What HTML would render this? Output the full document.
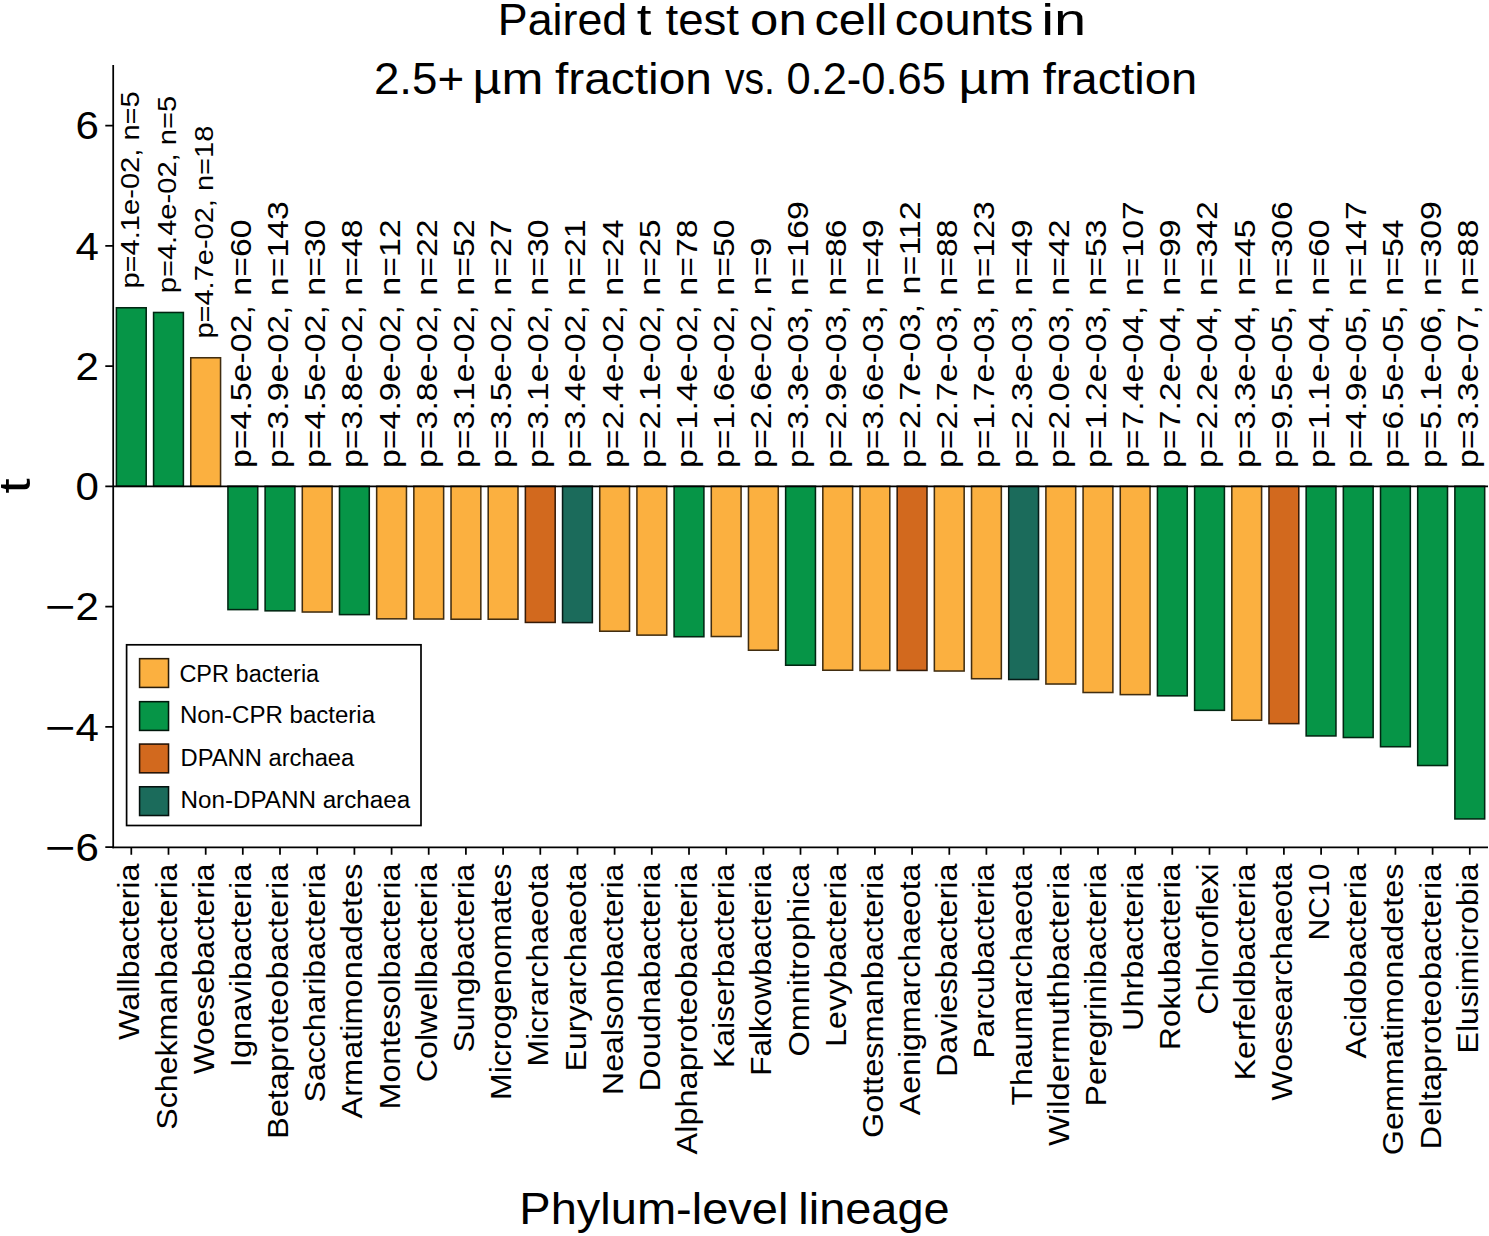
<!DOCTYPE html>
<html lang="en"><head><meta charset="utf-8"><title>Paired t test on cell counts</title>
<style>html,body{margin:0;padding:0;background:#fff}svg{display:block}text{font-family:"Liberation Sans",sans-serif;fill:#000}</style></head><body>
<svg width="1489" height="1236" viewBox="0 0 1489 1236">
<rect width="1489" height="1236" fill="#fff"/>
<text y="34.9" font-size="44"><tspan x="497.8" textLength="129.4" lengthAdjust="spacingAndGlyphs">Paired</tspan> <tspan x="636.7" textLength="14.7" lengthAdjust="spacingAndGlyphs">t</tspan> <tspan x="665.5" textLength="73.5" lengthAdjust="spacingAndGlyphs">test</tspan> <tspan x="750.1" textLength="56.6" lengthAdjust="spacingAndGlyphs">on</tspan> <tspan x="814.5" textLength="72.9" lengthAdjust="spacingAndGlyphs">cell</tspan> <tspan x="894.8" textLength="138.5" lengthAdjust="spacingAndGlyphs">counts</tspan> <tspan x="1041.2" textLength="45.1" lengthAdjust="spacingAndGlyphs">in</tspan></text>
<text y="94.0" font-size="44"><tspan x="373.9" textLength="90.3" lengthAdjust="spacingAndGlyphs">2.5+</tspan> <tspan x="472.5" textLength="70.8" lengthAdjust="spacingAndGlyphs">µm</tspan> <tspan x="554.9" textLength="157.1" lengthAdjust="spacingAndGlyphs">fraction</tspan> <tspan x="725.0" textLength="49.9" lengthAdjust="spacingAndGlyphs">vs.</tspan> <tspan x="786.4" textLength="159.5" lengthAdjust="spacingAndGlyphs">0.2-0.65</tspan> <tspan x="958.5" textLength="72.7" lengthAdjust="spacingAndGlyphs">µm</tspan> <tspan x="1042.7" textLength="154.5" lengthAdjust="spacingAndGlyphs">fraction</tspan></text>
<text y="1223.5" font-size="44"><tspan x="519.3" textLength="269.1" lengthAdjust="spacingAndGlyphs">Phylum-level</tspan> <tspan x="798.3" textLength="151.3" lengthAdjust="spacingAndGlyphs">lineage</tspan></text>
<text transform="translate(30.3 493.6) rotate(-90)" font-size="45" textLength="15.2" lengthAdjust="spacingAndGlyphs">t</text>
<g stroke-width="1.55">
<rect x="116.40" y="307.77" width="29.80" height="178.53" fill="#069547" stroke="#012612"/>
<rect x="153.58" y="312.47" width="29.80" height="173.83" fill="#069547" stroke="#012612"/>
<rect x="190.76" y="357.77" width="29.80" height="128.53" fill="#fbb040" stroke="#412d10"/>
<rect x="227.94" y="486.30" width="29.80" height="123.32" fill="#069547" stroke="#012612"/>
<rect x="265.12" y="486.30" width="29.80" height="124.53" fill="#069547" stroke="#012612"/>
<rect x="302.30" y="486.30" width="29.80" height="125.72" fill="#fbb040" stroke="#412d10"/>
<rect x="339.48" y="486.30" width="29.80" height="128.32" fill="#069547" stroke="#012612"/>
<rect x="376.66" y="486.30" width="29.80" height="132.53" fill="#fbb040" stroke="#412d10"/>
<rect x="413.84" y="486.30" width="29.80" height="132.72" fill="#fbb040" stroke="#412d10"/>
<rect x="451.02" y="486.30" width="29.80" height="132.93" fill="#fbb040" stroke="#412d10"/>
<rect x="488.20" y="486.30" width="29.80" height="132.93" fill="#fbb040" stroke="#412d10"/>
<rect x="525.38" y="486.30" width="29.80" height="136.13" fill="#d2691e" stroke="#361b07"/>
<rect x="562.56" y="486.30" width="29.80" height="136.32" fill="#1b6b5b" stroke="#071b17"/>
<rect x="599.74" y="486.30" width="29.80" height="144.93" fill="#fbb040" stroke="#412d10"/>
<rect x="636.92" y="486.30" width="29.80" height="148.82" fill="#fbb040" stroke="#412d10"/>
<rect x="674.10" y="486.30" width="29.80" height="150.43" fill="#069547" stroke="#012612"/>
<rect x="711.28" y="486.30" width="29.80" height="150.22" fill="#fbb040" stroke="#412d10"/>
<rect x="748.46" y="486.30" width="29.80" height="163.93" fill="#fbb040" stroke="#412d10"/>
<rect x="785.64" y="486.30" width="29.80" height="178.93" fill="#069547" stroke="#012612"/>
<rect x="822.82" y="486.30" width="29.80" height="183.93" fill="#fbb040" stroke="#412d10"/>
<rect x="860.00" y="486.30" width="29.80" height="184.13" fill="#fbb040" stroke="#412d10"/>
<rect x="897.18" y="486.30" width="29.80" height="184.13" fill="#d2691e" stroke="#361b07"/>
<rect x="934.36" y="486.30" width="29.80" height="184.72" fill="#fbb040" stroke="#412d10"/>
<rect x="971.54" y="486.30" width="29.80" height="192.43" fill="#fbb040" stroke="#412d10"/>
<rect x="1008.72" y="486.30" width="29.80" height="193.22" fill="#1b6b5b" stroke="#071b17"/>
<rect x="1045.90" y="486.30" width="29.80" height="197.72" fill="#fbb040" stroke="#412d10"/>
<rect x="1083.08" y="486.30" width="29.80" height="206.22" fill="#fbb040" stroke="#412d10"/>
<rect x="1120.26" y="486.30" width="29.80" height="208.32" fill="#fbb040" stroke="#412d10"/>
<rect x="1157.44" y="486.30" width="29.80" height="209.53" fill="#069547" stroke="#012612"/>
<rect x="1194.62" y="486.30" width="29.80" height="224.03" fill="#069547" stroke="#012612"/>
<rect x="1231.80" y="486.30" width="29.80" height="233.93" fill="#fbb040" stroke="#412d10"/>
<rect x="1268.98" y="486.30" width="29.80" height="237.32" fill="#d2691e" stroke="#361b07"/>
<rect x="1306.16" y="486.30" width="29.80" height="249.63" fill="#069547" stroke="#012612"/>
<rect x="1343.34" y="486.30" width="29.80" height="251.22" fill="#069547" stroke="#012612"/>
<rect x="1380.52" y="486.30" width="29.80" height="260.43" fill="#069547" stroke="#012612"/>
<rect x="1417.70" y="486.30" width="29.80" height="279.22" fill="#069547" stroke="#012612"/>
<rect x="1454.88" y="486.30" width="29.80" height="332.63" fill="#069547" stroke="#012612"/>
</g>
<g stroke="#000" stroke-width="1.75" fill="none">
<path d="M113.2 65.0V848.175"/>
<path d="M112.325 847.3H1488"/>
<path d="M113.2 486.3H1488"/>
<path d="M105.3 125.5H113.2M105.3 245.8H113.2M105.3 366.0H113.2M105.3 486.3H113.2M105.3 606.6H113.2M105.3 726.8H113.2M105.3 847.1H113.2M131.3 847.3V854.7M168.5 847.3V854.7M205.7 847.3V854.7M242.8 847.3V854.7M280.0 847.3V854.7M317.2 847.3V854.7M354.4 847.3V854.7M391.6 847.3V854.7M428.7 847.3V854.7M465.9 847.3V854.7M503.1 847.3V854.7M540.3 847.3V854.7M577.5 847.3V854.7M614.6 847.3V854.7M651.8 847.3V854.7M689.0 847.3V854.7M726.2 847.3V854.7M763.4 847.3V854.7M800.5 847.3V854.7M837.7 847.3V854.7M874.9 847.3V854.7M912.1 847.3V854.7M949.3 847.3V854.7M986.4 847.3V854.7M1023.6 847.3V854.7M1060.8 847.3V854.7M1098.0 847.3V854.7M1135.2 847.3V854.7M1172.3 847.3V854.7M1209.5 847.3V854.7M1246.7 847.3V854.7M1283.9 847.3V854.7M1321.1 847.3V854.7M1358.2 847.3V854.7M1395.4 847.3V854.7M1432.6 847.3V854.7M1469.8 847.3V854.7"/>
</g>
<g font-size="38.6" text-anchor="end">
<text x="98.9" y="139.3" textLength="23.4" lengthAdjust="spacingAndGlyphs">6</text>
<text x="98.9" y="259.6" textLength="23.4" lengthAdjust="spacingAndGlyphs">4</text>
<text x="98.9" y="379.8" textLength="23.4" lengthAdjust="spacingAndGlyphs">2</text>
<text x="98.9" y="500.1" textLength="23.4" lengthAdjust="spacingAndGlyphs">0</text>
<text x="98.9" y="620.4"><tspan textLength="30.8" lengthAdjust="spacingAndGlyphs">−</tspan><tspan textLength="23.4" lengthAdjust="spacingAndGlyphs">2</tspan></text>
<text x="98.9" y="740.6"><tspan textLength="30.8" lengthAdjust="spacingAndGlyphs">−</tspan><tspan textLength="23.4" lengthAdjust="spacingAndGlyphs">4</tspan></text>
<text x="98.9" y="860.9"><tspan textLength="30.8" lengthAdjust="spacingAndGlyphs">−</tspan><tspan textLength="23.4" lengthAdjust="spacingAndGlyphs">6</tspan></text>
</g>
<text transform="translate(138.9 288.6) rotate(-90)" font-size="25.0" textLength="197.4" lengthAdjust="spacingAndGlyphs">p=4.1e-02, n=5</text>
<text transform="translate(176.1 293.3) rotate(-90)" font-size="25.0" textLength="197.4" lengthAdjust="spacingAndGlyphs">p=4.4e-02, n=5</text>
<text transform="translate(213.3 338.6) rotate(-90)" font-size="25.0" textLength="212.9" lengthAdjust="spacingAndGlyphs">p=4.7e-02, n=18</text>
<text transform="translate(250.7 468.0) rotate(-90)" font-size="29.2" textLength="248.6" lengthAdjust="spacingAndGlyphs">p=4.5e-02, n=60</text>
<text transform="translate(287.9 468.0) rotate(-90)" font-size="29.2" textLength="266.8" lengthAdjust="spacingAndGlyphs">p=3.9e-02, n=143</text>
<text transform="translate(325.1 468.0) rotate(-90)" font-size="29.2" textLength="248.6" lengthAdjust="spacingAndGlyphs">p=4.5e-02, n=30</text>
<text transform="translate(362.3 468.0) rotate(-90)" font-size="29.2" textLength="248.6" lengthAdjust="spacingAndGlyphs">p=3.8e-02, n=48</text>
<text transform="translate(399.5 468.0) rotate(-90)" font-size="29.2" textLength="248.6" lengthAdjust="spacingAndGlyphs">p=4.9e-02, n=12</text>
<text transform="translate(436.6 468.0) rotate(-90)" font-size="29.2" textLength="248.6" lengthAdjust="spacingAndGlyphs">p=3.8e-02, n=22</text>
<text transform="translate(473.8 468.0) rotate(-90)" font-size="29.2" textLength="248.6" lengthAdjust="spacingAndGlyphs">p=3.1e-02, n=52</text>
<text transform="translate(511.0 468.0) rotate(-90)" font-size="29.2" textLength="248.6" lengthAdjust="spacingAndGlyphs">p=3.5e-02, n=27</text>
<text transform="translate(548.2 468.0) rotate(-90)" font-size="29.2" textLength="248.6" lengthAdjust="spacingAndGlyphs">p=3.1e-02, n=30</text>
<text transform="translate(585.4 468.0) rotate(-90)" font-size="29.2" textLength="248.6" lengthAdjust="spacingAndGlyphs">p=3.4e-02, n=21</text>
<text transform="translate(622.5 468.0) rotate(-90)" font-size="29.2" textLength="248.6" lengthAdjust="spacingAndGlyphs">p=2.4e-02, n=24</text>
<text transform="translate(659.7 468.0) rotate(-90)" font-size="29.2" textLength="248.6" lengthAdjust="spacingAndGlyphs">p=2.1e-02, n=25</text>
<text transform="translate(696.9 468.0) rotate(-90)" font-size="29.2" textLength="248.6" lengthAdjust="spacingAndGlyphs">p=1.4e-02, n=78</text>
<text transform="translate(734.1 468.0) rotate(-90)" font-size="29.2" textLength="248.6" lengthAdjust="spacingAndGlyphs">p=1.6e-02, n=50</text>
<text transform="translate(771.3 468.0) rotate(-90)" font-size="29.2" textLength="230.4" lengthAdjust="spacingAndGlyphs">p=2.6e-02, n=9</text>
<text transform="translate(808.4 468.0) rotate(-90)" font-size="29.2" textLength="266.8" lengthAdjust="spacingAndGlyphs">p=3.3e-03, n=169</text>
<text transform="translate(845.6 468.0) rotate(-90)" font-size="29.2" textLength="248.6" lengthAdjust="spacingAndGlyphs">p=2.9e-03, n=86</text>
<text transform="translate(882.8 468.0) rotate(-90)" font-size="29.2" textLength="248.6" lengthAdjust="spacingAndGlyphs">p=3.6e-03, n=49</text>
<text transform="translate(920.0 468.0) rotate(-90)" font-size="29.2" textLength="266.8" lengthAdjust="spacingAndGlyphs">p=2.7e-03, n=112</text>
<text transform="translate(957.2 468.0) rotate(-90)" font-size="29.2" textLength="248.6" lengthAdjust="spacingAndGlyphs">p=2.7e-03, n=88</text>
<text transform="translate(994.3 468.0) rotate(-90)" font-size="29.2" textLength="266.8" lengthAdjust="spacingAndGlyphs">p=1.7e-03, n=123</text>
<text transform="translate(1031.5 468.0) rotate(-90)" font-size="29.2" textLength="248.6" lengthAdjust="spacingAndGlyphs">p=2.3e-03, n=49</text>
<text transform="translate(1068.7 468.0) rotate(-90)" font-size="29.2" textLength="248.6" lengthAdjust="spacingAndGlyphs">p=2.0e-03, n=42</text>
<text transform="translate(1105.9 468.0) rotate(-90)" font-size="29.2" textLength="248.6" lengthAdjust="spacingAndGlyphs">p=1.2e-03, n=53</text>
<text transform="translate(1143.1 468.0) rotate(-90)" font-size="29.2" textLength="266.8" lengthAdjust="spacingAndGlyphs">p=7.4e-04, n=107</text>
<text transform="translate(1180.2 468.0) rotate(-90)" font-size="29.2" textLength="248.6" lengthAdjust="spacingAndGlyphs">p=7.2e-04, n=99</text>
<text transform="translate(1217.4 468.0) rotate(-90)" font-size="29.2" textLength="266.8" lengthAdjust="spacingAndGlyphs">p=2.2e-04, n=342</text>
<text transform="translate(1254.6 468.0) rotate(-90)" font-size="29.2" textLength="248.6" lengthAdjust="spacingAndGlyphs">p=3.3e-04, n=45</text>
<text transform="translate(1291.8 468.0) rotate(-90)" font-size="29.2" textLength="266.8" lengthAdjust="spacingAndGlyphs">p=9.5e-05, n=306</text>
<text transform="translate(1329.0 468.0) rotate(-90)" font-size="29.2" textLength="248.6" lengthAdjust="spacingAndGlyphs">p=1.1e-04, n=60</text>
<text transform="translate(1366.1 468.0) rotate(-90)" font-size="29.2" textLength="266.8" lengthAdjust="spacingAndGlyphs">p=4.9e-05, n=147</text>
<text transform="translate(1403.3 468.0) rotate(-90)" font-size="29.2" textLength="248.6" lengthAdjust="spacingAndGlyphs">p=6.5e-05, n=54</text>
<text transform="translate(1440.5 468.0) rotate(-90)" font-size="29.2" textLength="266.8" lengthAdjust="spacingAndGlyphs">p=5.1e-06, n=309</text>
<text transform="translate(1477.7 468.0) rotate(-90)" font-size="29.2" textLength="248.6" lengthAdjust="spacingAndGlyphs">p=3.3e-07, n=88</text>
<g font-size="29.8" text-anchor="end">
<text transform="translate(139.3 863.6) rotate(-90)" textLength="176.3" lengthAdjust="spacingAndGlyphs">Wallbacteria</text>
<text transform="translate(176.5 863.6) rotate(-90)" textLength="266.1" lengthAdjust="spacingAndGlyphs">Schekmanbacteria</text>
<text transform="translate(213.7 863.6) rotate(-90)" textLength="210.6" lengthAdjust="spacingAndGlyphs">Woesebacteria</text>
<text transform="translate(250.8 863.6) rotate(-90)" textLength="203.6" lengthAdjust="spacingAndGlyphs">Ignavibacteria</text>
<text transform="translate(288.0 863.6) rotate(-90)" textLength="275.5" lengthAdjust="spacingAndGlyphs">Betaproteobacteria</text>
<text transform="translate(325.2 863.6) rotate(-90)" textLength="238.9" lengthAdjust="spacingAndGlyphs">Saccharibacteria</text>
<text transform="translate(362.4 863.6) rotate(-90)" textLength="254.8" lengthAdjust="spacingAndGlyphs">Armatimonadetes</text>
<text transform="translate(399.6 863.6) rotate(-90)" textLength="245.9" lengthAdjust="spacingAndGlyphs">Montesolbacteria</text>
<text transform="translate(436.7 863.6) rotate(-90)" textLength="218.7" lengthAdjust="spacingAndGlyphs">Colwellbacteria</text>
<text transform="translate(473.9 863.6) rotate(-90)" textLength="189.0" lengthAdjust="spacingAndGlyphs">Sungbacteria</text>
<text transform="translate(511.1 863.6) rotate(-90)" textLength="236.4" lengthAdjust="spacingAndGlyphs">Microgenomates</text>
<text transform="translate(548.3 863.6) rotate(-90)" textLength="203.0" lengthAdjust="spacingAndGlyphs">Micrarchaeota</text>
<text transform="translate(585.5 863.6) rotate(-90)" textLength="207.7" lengthAdjust="spacingAndGlyphs">Euryarchaeota</text>
<text transform="translate(622.6 863.6) rotate(-90)" textLength="231.4" lengthAdjust="spacingAndGlyphs">Nealsonbacteria</text>
<text transform="translate(659.8 863.6) rotate(-90)" textLength="227.9" lengthAdjust="spacingAndGlyphs">Doudnabacteria</text>
<text transform="translate(697.0 863.6) rotate(-90)" textLength="290.9" lengthAdjust="spacingAndGlyphs">Alphaproteobacteria</text>
<text transform="translate(734.2 863.6) rotate(-90)" textLength="204.4" lengthAdjust="spacingAndGlyphs">Kaiserbacteria</text>
<text transform="translate(771.4 863.6) rotate(-90)" textLength="212.2" lengthAdjust="spacingAndGlyphs">Falkowbacteria</text>
<text transform="translate(808.5 863.6) rotate(-90)" textLength="192.8" lengthAdjust="spacingAndGlyphs">Omnitrophica</text>
<text transform="translate(845.7 863.6) rotate(-90)" textLength="183.3" lengthAdjust="spacingAndGlyphs">Levybacteria</text>
<text transform="translate(882.9 863.6) rotate(-90)" textLength="274.5" lengthAdjust="spacingAndGlyphs">Gottesmanbacteria</text>
<text transform="translate(920.1 863.6) rotate(-90)" textLength="251.6" lengthAdjust="spacingAndGlyphs">Aenigmarchaeota</text>
<text transform="translate(957.3 863.6) rotate(-90)" textLength="213.4" lengthAdjust="spacingAndGlyphs">Daviesbacteria</text>
<text transform="translate(994.4 863.6) rotate(-90)" textLength="194.9" lengthAdjust="spacingAndGlyphs">Parcubacteria</text>
<text transform="translate(1031.6 863.6) rotate(-90)" textLength="242.0" lengthAdjust="spacingAndGlyphs">Thaumarchaeota</text>
<text transform="translate(1068.8 863.6) rotate(-90)" textLength="282.3" lengthAdjust="spacingAndGlyphs">Wildermuthbacteria</text>
<text transform="translate(1106.0 863.6) rotate(-90)" textLength="242.9" lengthAdjust="spacingAndGlyphs">Peregrinibacteria</text>
<text transform="translate(1143.2 863.6) rotate(-90)" textLength="167.3" lengthAdjust="spacingAndGlyphs">Uhrbacteria</text>
<text transform="translate(1180.3 863.6) rotate(-90)" textLength="186.3" lengthAdjust="spacingAndGlyphs">Rokubacteria</text>
<text transform="translate(1217.5 863.6) rotate(-90)" textLength="151.1" lengthAdjust="spacingAndGlyphs">Chloroflexi</text>
<text transform="translate(1254.7 863.6) rotate(-90)" textLength="216.9" lengthAdjust="spacingAndGlyphs">Kerfeldbacteria</text>
<text transform="translate(1291.9 863.6) rotate(-90)" textLength="237.1" lengthAdjust="spacingAndGlyphs">Woesearchaeota</text>
<text transform="translate(1329.1 863.6) rotate(-90)" textLength="76.8" lengthAdjust="spacingAndGlyphs">NC10</text>
<text transform="translate(1366.2 863.6) rotate(-90)" textLength="194.8" lengthAdjust="spacingAndGlyphs">Acidobacteria</text>
<text transform="translate(1403.4 863.6) rotate(-90)" textLength="291.6" lengthAdjust="spacingAndGlyphs">Gemmatimonadetes</text>
<text transform="translate(1440.6 863.6) rotate(-90)" textLength="285.8" lengthAdjust="spacingAndGlyphs">Deltaproteobacteria</text>
<text transform="translate(1477.8 863.6) rotate(-90)" textLength="189.8" lengthAdjust="spacingAndGlyphs">Elusimicrobia</text>
</g>
<rect x="126.6" y="644.8" width="294.4" height="180.7" fill="#fff" stroke="#000" stroke-width="1.7"/>
<g font-size="23.5">
<rect x="139.58" y="658.67" width="28.95" height="28.75" fill="#fbb040" stroke="#281c0a" stroke-width="1.55"/>
<text x="179.4" y="681.6" textLength="139.8" lengthAdjust="spacingAndGlyphs">CPR bacteria</text>
<rect x="139.58" y="701.67" width="28.95" height="28.75" fill="#069547" stroke="#00170b" stroke-width="1.55"/>
<text x="179.9" y="723.1" textLength="195.2" lengthAdjust="spacingAndGlyphs">Non-CPR bacteria</text>
<rect x="139.58" y="744.07" width="28.95" height="28.75" fill="#d2691e" stroke="#211004" stroke-width="1.55"/>
<text x="180.5" y="766.3" textLength="173.8" lengthAdjust="spacingAndGlyphs">DPANN archaea</text>
<rect x="139.58" y="786.77" width="28.95" height="28.75" fill="#1b6b5b" stroke="#04110e" stroke-width="1.55"/>
<text x="180.5" y="808.4" textLength="229.6" lengthAdjust="spacingAndGlyphs">Non-DPANN archaea</text>
</g>
</svg></body></html>
